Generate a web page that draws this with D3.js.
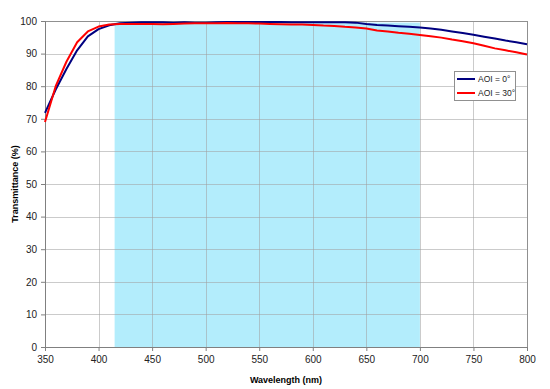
<!DOCTYPE html>
<html>
<head>
<meta charset="utf-8">
<script src="https://cdn.jsdelivr.net/npm/d3@7"></script>
<style>
  body { margin: 0; background: #fff; }
  svg { font-family: "Liberation Sans", Arial, sans-serif; }
</style>
</head>
<body>
<script>
// wavelengths (nm) and transmittance (%)
var wavelengths = [350, 360, 370, 380, 390, 400, 410, 420, 430, 440, 450, 460, 470, 480, 490, 500,
  510, 520, 530, 540, 550, 560, 570, 580, 590, 600, 610, 620, 630, 640, 650, 660, 670, 680, 690, 700,
  710, 720, 730, 740, 750, 760, 770, 780, 790, 800];
var aoi0 = [71.8, 79.0, 85.3, 91.0, 95.3, 97.5, 98.7, 99.3, 99.5, 99.6, 99.6, 99.6, 99.5, 99.6, 99.5, 99.5,
  99.6, 99.7, 99.7, 99.7, 99.7, 99.7, 99.7, 99.6, 99.6, 99.6, 99.6, 99.6, 99.6, 99.5, 99.1, 98.8, 98.6, 98.4, 98.2, 98.0,
  97.7, 97.3, 96.8, 96.3, 95.8, 95.2, 94.6, 94.0, 93.5, 92.9];
var aoi30 = [69.0, 80.0, 87.5, 93.5, 96.8, 98.3, 98.9, 99.1, 99.1, 99.1, 99.1, 99.0, 99.1, 99.2, 99.3, 99.3,
  99.3, 99.4, 99.3, 99.3, 99.2, 99.1, 99.0, 98.9, 98.9, 98.8, 98.6, 98.5, 98.2, 98.0, 97.7, 97.1, 96.8, 96.4, 96.1, 95.7,
  95.3, 94.9, 94.3, 93.8, 93.2, 92.4, 91.6, 91.0, 90.4, 89.7];
var seriesNames = ["AOI = 0°", "AOI = 30°"];
var seriesColors = ["#000080", "#ff0000"];
var band = [415, 700];      // shaded band
var bandTop = 99.5;
var xTicks = [350, 400, 450, 500, 550, 600, 650, 700, 750, 800];
var yTicks = [0, 10, 20, 30, 40, 50, 60, 70, 80, 90, 100];

var margin = {top: 21, right: 23, bottom: 42, left: 45},
    width = 550 - margin.left - margin.right,
    height = 389 - margin.top - margin.bottom;

var x = d3.scaleLinear().domain([350, 800]).range([0, width]);
var y = d3.scaleLinear().domain([0, 100]).range([height, 0]);

var svg = d3.select("body").append("svg")
    .attr("width", 550)
    .attr("height", 389)
  .append("g")
    .attr("transform", "translate(" + margin.left + "," + margin.top + ")");

// shaded band
svg.append("rect")
    .attr("x", x(band[0]))
    .attr("y", y(bandTop))
    .attr("width", x(band[1]) - x(band[0]))
    .attr("height", y(0) - y(bandTop))
    .attr("fill", "#b3edfc");

// gridlines
svg.append("g").selectAll("line.h")
    .data(yTicks).enter().append("line")
    .attr("x1", 0).attr("x2", width)
    .attr("y1", function(d) { return Math.round(y(d)) + 0.5; })
    .attr("y2", function(d) { return Math.round(y(d)) + 0.5; })
    .attr("stroke", "#a0a0a0").attr("stroke-opacity", 0.55);
svg.append("g").selectAll("line.v")
    .data(xTicks).enter().append("line")
    .attr("y1", 0).attr("y2", height)
    .attr("x1", function(d) { return Math.round(x(d)) + 0.5; })
    .attr("x2", function(d) { return Math.round(x(d)) + 0.5; })
    .attr("stroke", "#a0a0a0").attr("stroke-opacity", 0.55);

// plot border
svg.append("rect")
    .attr("x", 0.5).attr("y", 0.5)
    .attr("width", width).attr("height", height)
    .attr("fill", "none").attr("stroke", "#909090");

// axes
var xAxis = svg.append("g")
    .attr("transform", "translate(0," + height + ")")
    .call(d3.axisBottom(x).tickValues(xTicks).tickSize(4).tickPadding(5));
var yAxis = svg.append("g")
    .call(d3.axisLeft(y).tickValues(yTicks).tickSize(4).tickPadding(4));
[xAxis, yAxis].forEach(function(a) {
  a.select(".domain").attr("stroke", "#808080");
  a.selectAll(".tick line").attr("stroke", "#808080");
  a.selectAll("text").attr("font-size", 10).attr("fill", "#222")
    .attr("font-family", "Liberation Sans, Arial, sans-serif");
});

// lines
var line = d3.line()
    .x(function(d) { return x(d[0]); })
    .y(function(d) { return y(d[1]); });
[aoi0, aoi30].forEach(function(vals, i) {
  svg.append("path")
      .datum(wavelengths.map(function(w, j) { return [w, vals[j]]; }))
      .attr("fill", "none")
      .attr("stroke", seriesColors[i])
      .attr("stroke-width", 2)
      .attr("stroke-linejoin", "round")
      .attr("d", line);
});

// axis titles
svg.append("text")
    .attr("x", width / 2)
    .attr("y", height + 36)
    .attr("text-anchor", "middle")
    .attr("font-size", 9)
    .attr("font-weight", "bold")
    .text("Wavelength (nm)");
svg.append("text")
    .attr("transform", "rotate(-90)")
    .attr("x", -height / 2)
    .attr("y", -27)
    .attr("text-anchor", "middle")
    .attr("font-size", 9)
    .attr("font-weight", "bold")
    .text("Transmittance (%)");

// legend
var legend = svg.append("g")
    .attr("transform", "translate(" + (454 - margin.left) + "," + (71 - margin.top) + ")");
legend.append("rect")
    .attr("x", 0.5).attr("y", 0.5)
    .attr("width", 61).attr("height", 29)
    .attr("fill", "#fff").attr("stroke", "#909090");
seriesNames.forEach(function(name, i) {
  legend.append("line")
      .attr("x1", 3).attr("x2", 21)
      .attr("y1", 8 + i * 14).attr("y2", 8 + i * 14)
      .attr("stroke", seriesColors[i]).attr("stroke-width", 2);
  legend.append("text")
      .attr("x", 24)
      .attr("y", 11 + i * 14)
      .attr("font-size", 8.5)
      .attr("fill", "#222")
      .text(name);
});
</script>
</body>
</html>
